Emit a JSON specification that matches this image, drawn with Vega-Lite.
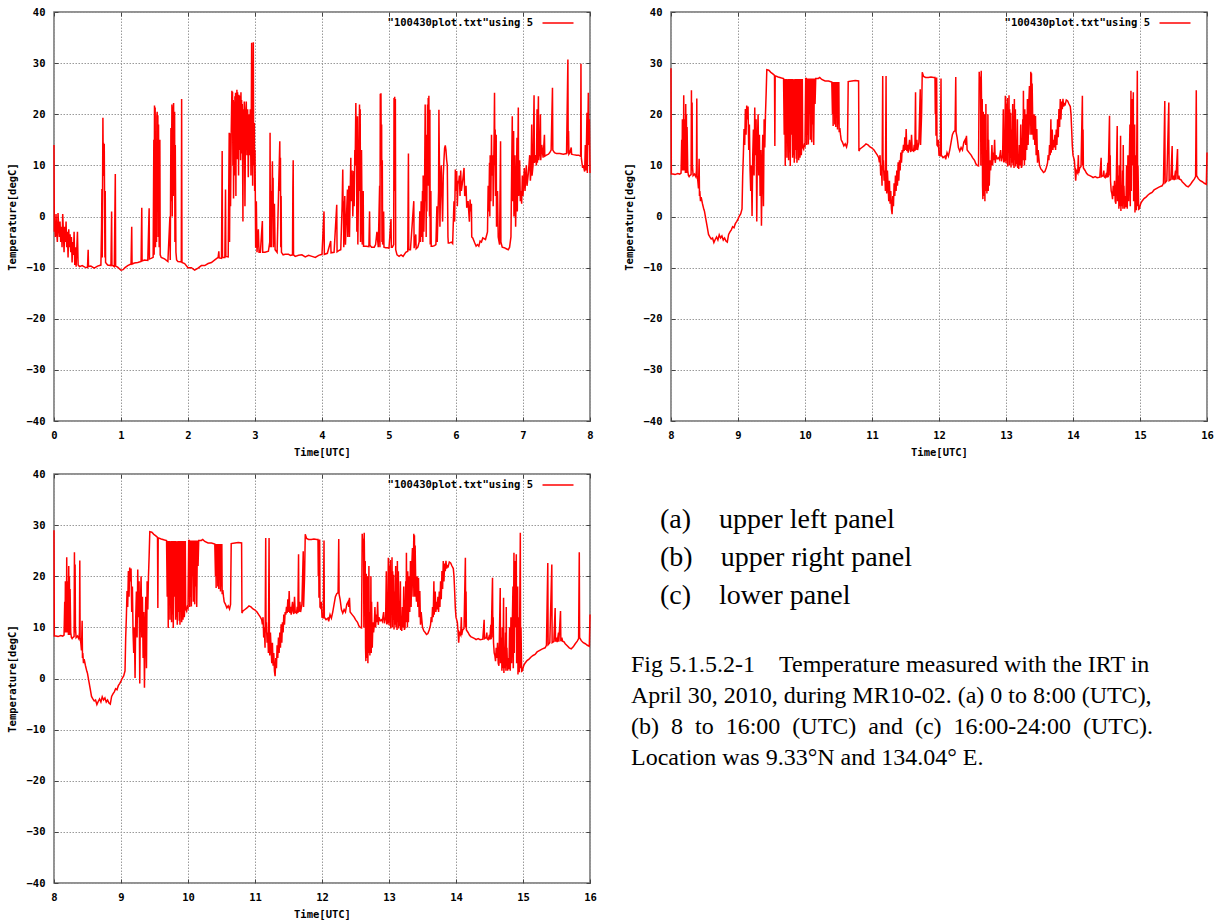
{
"$schema": "https://vega.github.io/schema/vega-lite/v6.json",
"background": "white",
"padding": {"left": 6, "top": 6, "right": 5, "bottom": 5},
"config": {
 "view": {"stroke": "#6f6f6f", "strokeWidth": 1.5},
 "axis": {"domain": false, "labelFont": "DejaVu Sans Mono", "labelFontWeight": "bold", "labelFontSize": 10.5, "labelColor": "#000",
  "titleFont": "DejaVu Sans Mono", "titleFontWeight": "bold", "titleFontSize": 10.5, "titleColor": "#000",
  "gridColor": "#9a9a9a", "gridDash": [1.5, 1.5], "gridWidth": 1, "gridOpacity": 1,
  "tickColor": "#444", "tickSize": -4, "tickWidth": 1, "labelPadding": 13, "labelOverlap": false, "labelFlush": false, "labelBound": false},
 "axisX": {"titlePadding": 7},
 "axisY": {"titlePadding": 9},
 "legend": {"orient": "top-right", "offset": 5, "padding": 0, "symbolType": "M-3.1,0H3.1M4.8,0", "symbolSize": 100, "symbolStrokeWidth": 1.5,
  "labelFont": "DejaVu Sans Mono", "labelFontWeight": "bold", "labelFontSize": 10.5, "labelColor": "#000",
  "labelAlign": "right", "labelOffset": -31, "symbolOffset": 0, "labelLimit": 400}
},
"datasets": {
"a": [
{"time":0,"temp":14},{"time":0.005,"temp":-3},{"time":0.012,"temp":-1.5},{"time":0.02,"temp":-4},{"time":0.03,"temp":0.5},{"time":0.04,"temp":-3},{"time":0.05,"temp":-5},{"time":0.06,"temp":0.7},{"time":0.07,"temp":-2},{"time":0.08,"temp":-4},{"time":0.09,"temp":-1},{"time":0.1,"temp":-5},{"time":0.11,"temp":-2},{"time":0.12,"temp":-6},{"time":0.13,"temp":0.5},{"time":0.14,"temp":-3},{"time":0.15,"temp":-7},{"time":0.16,"temp":-2},{"time":0.17,"temp":-5},{"time":0.18,"temp":-1},{"time":0.19,"temp":-6},{"time":0.2,"temp":-3},{"time":0.21,"temp":-8},{"time":0.22,"temp":-2.5},{"time":0.23,"temp":-6},{"time":0.24,"temp":-3.5},{"time":0.25,"temp":-7},{"time":0.26,"temp":-4},{"time":0.27,"temp":-9},{"time":0.28,"temp":-5},{"time":0.29,"temp":-7.5},{"time":0.3,"temp":-3},{"time":0.31,"temp":-9.5},{"time":0.32,"temp":-6},{"time":0.33,"temp":-9.8},{"time":0.34,"temp":-6.5},{"time":0.35,"temp":-3},{"time":0.36,"temp":-9.5},{"time":0.38,"temp":-9.8},{"time":0.42,"temp":-9.6},{"time":0.46,"temp":-9.9},{"time":0.5,"temp":-10},{"time":0.51,"temp":-6.5},{"time":0.515,"temp":-9.8},{"time":0.55,"temp":-9.7},{"time":0.6,"temp":-10.1},{"time":0.65,"temp":-9.7},{"time":0.7,"temp":-9.5},{"time":0.71,"temp":-2},{"time":0.715,"temp":5.4},{"time":0.72,"temp":-8},{"time":0.725,"temp":5.6},{"time":0.73,"temp":19.3},{"time":0.735,"temp":10},{"time":0.74,"temp":14.4},{"time":0.745,"temp":7.9},{"time":0.75,"temp":14.2},{"time":0.755,"temp":3},{"time":0.76,"temp":-8},{"time":0.765,"temp":5},{"time":0.77,"temp":-9},{"time":0.8,"temp":-9.5},{"time":0.85,"temp":-9.6},{"time":0.86,"temp":1},{"time":0.865,"temp":-9.5},{"time":0.9,"temp":-9.8},{"time":0.915,"temp":8.3},{"time":0.92,"temp":-9.7},{"time":0.95,"temp":-9.9},{"time":1,"temp":-10.5},{"time":1.03,"temp":-10.4},{"time":1.06,"temp":-10},{"time":1.1,"temp":-9.6},{"time":1.15,"temp":-9.3},{"time":1.16,"temp":-2},{"time":1.165,"temp":-9.3},{"time":1.2,"temp":-9.1},{"time":1.25,"temp":-9},{"time":1.3,"temp":-8.8},{"time":1.31,"temp":1.7},{"time":1.315,"temp":-8.7},{"time":1.35,"temp":-8.5},{"time":1.4,"temp":-8.6},{"time":1.42,"temp":1.6},{"time":1.425,"temp":-8.3},{"time":1.45,"temp":-8.2},{"time":1.48,"temp":-8},{"time":1.49,"temp":15},{"time":1.495,"temp":-7.5},{"time":1.5,"temp":21.7},{"time":1.505,"temp":5},{"time":1.51,"temp":21.3},{"time":1.515,"temp":-6},{"time":1.52,"temp":12},{"time":1.53,"temp":-5},{"time":1.535,"temp":19.6},{"time":1.54,"temp":20.5},{"time":1.545,"temp":3},{"time":1.55,"temp":19.8},{"time":1.555,"temp":-4},{"time":1.56,"temp":18},{"time":1.57,"temp":-6},{"time":1.58,"temp":15},{"time":1.585,"temp":-7.5},{"time":1.6,"temp":-8},{"time":1.65,"temp":-8.3},{"time":1.7,"temp":-8.8},{"time":1.73,"temp":0},{"time":1.735,"temp":-8.5},{"time":1.745,"temp":17.3},{"time":1.75,"temp":3},{"time":1.76,"temp":21.9},{"time":1.765,"temp":0},{"time":1.77,"temp":16},{"time":1.775,"temp":21.5},{"time":1.78,"temp":4},{"time":1.785,"temp":22.2},{"time":1.79,"temp":10},{"time":1.8,"temp":20.5},{"time":1.805,"temp":-5},{"time":1.81,"temp":14},{"time":1.82,"temp":-7},{"time":1.83,"temp":-8.5},{"time":1.85,"temp":-8.8},{"time":1.9,"temp":-8.9},{"time":1.905,"temp":23},{"time":1.91,"temp":-9},{"time":1.95,"temp":-9.2},{"time":2,"temp":-10},{"time":2.05,"temp":-10},{"time":2.1,"temp":-10.5},{"time":2.15,"temp":-10.1},{"time":2.2,"temp":-9.6},{"time":2.25,"temp":-9.6},{"time":2.3,"temp":-9.2},{"time":2.35,"temp":-9},{"time":2.4,"temp":-8.5},{"time":2.45,"temp":-8},{"time":2.46,"temp":-6.8},{"time":2.465,"temp":-8.1},{"time":2.5,"temp":-8.2},{"time":2.51,"temp":12.8},{"time":2.515,"temp":-8},{"time":2.55,"temp":-8},{"time":2.56,"temp":5.3},{"time":2.565,"temp":-7.8},{"time":2.6,"temp":-7.9},{"time":2.615,"temp":16.4},{"time":2.62,"temp":-5},{"time":2.63,"temp":16.3},{"time":2.635,"temp":2},{"time":2.645,"temp":16.5},{"time":2.655,"temp":24.6},{"time":2.66,"temp":18},{"time":2.665,"temp":24.4},{"time":2.67,"temp":10},{"time":2.675,"temp":22.8},{"time":2.68,"temp":3.5},{"time":2.69,"temp":22.5},{"time":2.695,"temp":8},{"time":2.7,"temp":23.5},{"time":2.705,"temp":17},{"time":2.71,"temp":24.2},{"time":2.715,"temp":4},{"time":2.72,"temp":23.8},{"time":2.725,"temp":15.4},{"time":2.73,"temp":24.8},{"time":2.735,"temp":11.2},{"time":2.74,"temp":24.3},{"time":2.745,"temp":19},{"time":2.75,"temp":23.5},{"time":2.755,"temp":8},{"time":2.76,"temp":23.8},{"time":2.765,"temp":13},{"time":2.77,"temp":23.2},{"time":2.775,"temp":16},{"time":2.78,"temp":23.6},{"time":2.785,"temp":11},{"time":2.79,"temp":24.3},{"time":2.795,"temp":20},{"time":2.8,"temp":22.8},{"time":2.805,"temp":12.3},{"time":2.81,"temp":22},{"time":2.82,"temp":-1},{"time":2.825,"temp":21},{"time":2.83,"temp":14},{"time":2.84,"temp":22.5},{"time":2.85,"temp":2},{"time":2.86,"temp":20},{"time":2.87,"temp":22.5},{"time":2.88,"temp":12},{"time":2.89,"temp":21},{"time":2.9,"temp":7.7},{"time":2.91,"temp":20},{"time":2.92,"temp":12},{"time":2.93,"temp":21},{"time":2.94,"temp":8},{"time":2.95,"temp":34},{"time":2.955,"temp":10},{"time":2.96,"temp":20},{"time":2.965,"temp":6},{"time":2.975,"temp":34.1},{"time":2.98,"temp":10},{"time":2.99,"temp":18.3},{"time":2.995,"temp":5},{"time":3,"temp":13},{"time":3.01,"temp":-6.1},{"time":3.02,"temp":3},{"time":3.03,"temp":-7},{"time":3.05,"temp":-2.5},{"time":3.06,"temp":-7},{"time":3.08,"temp":-7},{"time":3.11,"temp":-0.9},{"time":3.115,"temp":-7},{"time":3.15,"temp":-7},{"time":3.2,"temp":-6.8},{"time":3.22,"temp":-5},{"time":3.225,"temp":16.4},{"time":3.23,"temp":-6},{"time":3.24,"temp":5},{"time":3.245,"temp":-6},{"time":3.26,"temp":10.8},{"time":3.265,"temp":0},{"time":3.27,"temp":7.6},{"time":3.275,"temp":-6},{"time":3.29,"temp":2.5},{"time":3.3,"temp":-6.5},{"time":3.33,"temp":-7},{"time":3.37,"temp":14.7},{"time":3.375,"temp":5},{"time":3.38,"temp":11.5},{"time":3.385,"temp":-6},{"time":3.39,"temp":4},{"time":3.395,"temp":-7},{"time":3.42,"temp":-7.5},{"time":3.45,"temp":-7.4},{"time":3.5,"temp":-7.4},{"time":3.53,"temp":-7.6},{"time":3.56,"temp":-7.5},{"time":3.565,"temp":5.5},{"time":3.57,"temp":11},{"time":3.575,"temp":-7.5},{"time":3.6,"temp":-7.8},{"time":3.65,"temp":-7.6},{"time":3.7,"temp":-7.5},{"time":3.75,"temp":-7.9},{"time":3.8,"temp":-7.6},{"time":3.85,"temp":-7.8},{"time":3.9,"temp":-8},{"time":3.95,"temp":-7.6},{"time":4,"temp":-7.4},{"time":4.03,"temp":1},{"time":4.035,"temp":-7.4},{"time":4.08,"temp":-7.2},{"time":4.13,"temp":-4.8},{"time":4.135,"temp":-7.1},{"time":4.18,"temp":-7},{"time":4.22,"temp":2.3},{"time":4.225,"temp":-6.9},{"time":4.26,"temp":-6.6},{"time":4.28,"temp":-6.5},{"time":4.3,"temp":2},{"time":4.31,"temp":9.2},{"time":4.315,"temp":1},{"time":4.32,"temp":3},{"time":4.325,"temp":-6},{"time":4.34,"temp":4},{"time":4.35,"temp":-5.5},{"time":4.38,"temp":5.3},{"time":4.385,"temp":-4},{"time":4.4,"temp":6},{"time":4.41,"temp":-4},{"time":4.43,"temp":11.5},{"time":4.435,"temp":3},{"time":4.45,"temp":9},{"time":4.46,"temp":0},{"time":4.475,"temp":8.9},{"time":4.48,"temp":2},{"time":4.49,"temp":13},{"time":4.495,"temp":10},{"time":4.505,"temp":22.2},{"time":4.51,"temp":15},{"time":4.515,"temp":18.3},{"time":4.52,"temp":-3},{"time":4.53,"temp":19.6},{"time":4.535,"temp":-5.5},{"time":4.56,"temp":21.9},{"time":4.565,"temp":5},{"time":4.57,"temp":21},{"time":4.575,"temp":-5},{"time":4.59,"temp":13},{"time":4.6,"temp":-5.5},{"time":4.615,"temp":5},{"time":4.62,"temp":-5.8},{"time":4.66,"temp":-5.8},{"time":4.7,"temp":-5.9},{"time":4.71,"temp":1},{"time":4.715,"temp":-5.6},{"time":4.74,"temp":-6},{"time":4.78,"temp":-6},{"time":4.8,"temp":-5.5},{"time":4.82,"temp":-3},{"time":4.84,"temp":-6},{"time":4.86,"temp":6},{"time":4.865,"temp":-6},{"time":4.87,"temp":24},{"time":4.875,"temp":10},{"time":4.88,"temp":24.1},{"time":4.885,"temp":11.5},{"time":4.89,"temp":18},{"time":4.895,"temp":-5},{"time":4.9,"temp":11},{"time":4.905,"temp":-5.5},{"time":4.92,"temp":1},{"time":4.925,"temp":-6},{"time":4.95,"temp":-6.1},{"time":4.98,"temp":-6.1},{"time":5,"temp":-6.2},{"time":5.03,"temp":-0.5},{"time":5.035,"temp":-6},{"time":5.05,"temp":-6},{"time":5.07,"temp":-5.5},{"time":5.075,"temp":23.2},{"time":5.08,"temp":5},{"time":5.085,"temp":23.4},{"time":5.09,"temp":10},{"time":5.095,"temp":23},{"time":5.1,"temp":-6.5},{"time":5.12,"temp":-7.5},{"time":5.15,"temp":-7.8},{"time":5.18,"temp":-7.5},{"time":5.21,"temp":-7.8},{"time":5.25,"temp":-7},{"time":5.28,"temp":-6.8},{"time":5.29,"temp":12.3},{"time":5.295,"temp":-6.5},{"time":5.32,"temp":-6.5},{"time":5.37,"temp":3},{"time":5.375,"temp":-6.2},{"time":5.4,"temp":-3.5},{"time":5.405,"temp":-6.3},{"time":5.43,"temp":-6},{"time":5.45,"temp":-5},{"time":5.46,"temp":1},{"time":5.47,"temp":-5},{"time":5.48,"temp":3},{"time":5.49,"temp":-4},{"time":5.5,"temp":5},{"time":5.505,"temp":-5},{"time":5.51,"temp":8},{"time":5.52,"temp":-3},{"time":5.53,"temp":4},{"time":5.54,"temp":21.9},{"time":5.545,"temp":3},{"time":5.55,"temp":8.9},{"time":5.555,"temp":-4},{"time":5.56,"temp":16},{"time":5.565,"temp":1},{"time":5.575,"temp":21.9},{"time":5.58,"temp":10},{"time":5.585,"temp":23.2},{"time":5.59,"temp":6},{"time":5.595,"temp":23.6},{"time":5.6,"temp":12},{"time":5.605,"temp":0},{"time":5.61,"temp":20.9},{"time":5.615,"temp":-5.5},{"time":5.625,"temp":5},{"time":5.63,"temp":-5.8},{"time":5.65,"temp":-5.8},{"time":5.68,"temp":-5.7},{"time":5.7,"temp":-5.5},{"time":5.715,"temp":2},{"time":5.72,"temp":-5},{"time":5.74,"temp":5},{"time":5.745,"temp":20.9},{"time":5.75,"temp":13.4},{"time":5.755,"temp":8},{"time":5.76,"temp":-2},{"time":5.77,"temp":6},{"time":5.78,"temp":10},{"time":5.79,"temp":4},{"time":5.8,"temp":-1},{"time":5.81,"temp":8},{"time":5.82,"temp":11},{"time":5.83,"temp":13.4},{"time":5.84,"temp":13.9},{"time":5.85,"temp":13},{"time":5.86,"temp":11.1},{"time":5.87,"temp":10},{"time":5.88,"temp":-4},{"time":5.885,"temp":-5.2},{"time":5.9,"temp":-5.2},{"time":5.93,"temp":-5},{"time":5.95,"temp":-5.3},{"time":5.97,"temp":3},{"time":5.98,"temp":-1},{"time":5.99,"temp":9.2},{"time":6,"temp":5},{"time":6.01,"temp":8.9},{"time":6.02,"temp":2},{"time":6.03,"temp":7},{"time":6.04,"temp":6.5},{"time":6.05,"temp":8},{"time":6.06,"temp":4},{"time":6.07,"temp":9},{"time":6.08,"temp":5},{"time":6.1,"temp":7},{"time":6.12,"temp":9.5},{"time":6.13,"temp":4},{"time":6.15,"temp":6},{"time":6.16,"temp":1.7},{"time":6.18,"temp":3},{"time":6.2,"temp":-1},{"time":6.21,"temp":3.3},{"time":6.22,"temp":1},{"time":6.23,"temp":2.5},{"time":6.235,"temp":-4},{"time":6.25,"temp":-4.2},{"time":6.28,"temp":-5.2},{"time":6.3,"temp":-5.8},{"time":6.32,"temp":-5.5},{"time":6.34,"temp":-5.8},{"time":6.36,"temp":-4.8},{"time":6.38,"temp":-5},{"time":6.4,"temp":-4.2},{"time":6.44,"temp":-4.5},{"time":6.47,"temp":-3},{"time":6.48,"temp":6},{"time":6.49,"temp":1},{"time":6.5,"temp":10.5},{"time":6.505,"temp":0},{"time":6.51,"temp":12},{"time":6.52,"temp":3},{"time":6.53,"temp":16},{"time":6.535,"temp":8},{"time":6.55,"temp":12},{"time":6.555,"temp":2},{"time":6.57,"temp":17},{"time":6.575,"temp":24.2},{"time":6.58,"temp":10},{"time":6.585,"temp":17},{"time":6.59,"temp":4},{"time":6.6,"temp":16},{"time":6.605,"temp":-2},{"time":6.62,"temp":5},{"time":6.63,"temp":-4},{"time":6.65,"temp":-5.5},{"time":6.665,"temp":14.7},{"time":6.67,"temp":-5},{"time":6.69,"temp":-6},{"time":6.72,"temp":-6.1},{"time":6.75,"temp":-6.3},{"time":6.78,"temp":-6.5},{"time":6.8,"temp":-6},{"time":6.82,"temp":-4},{"time":6.83,"temp":8},{"time":6.84,"temp":19.6},{"time":6.845,"temp":3},{"time":6.86,"temp":16.7},{"time":6.865,"temp":0},{"time":6.88,"temp":12},{"time":6.89,"temp":-2},{"time":6.9,"temp":6},{"time":6.91,"temp":15.4},{"time":6.915,"temp":1},{"time":6.93,"temp":21.3},{"time":6.935,"temp":4},{"time":6.95,"temp":11},{"time":6.96,"temp":3},{"time":6.97,"temp":5},{"time":6.98,"temp":2.5},{"time":6.99,"temp":8},{"time":7,"temp":4},{"time":7.02,"temp":9.5},{"time":7.03,"temp":5},{"time":7.05,"temp":10},{"time":7.06,"temp":6},{"time":7.08,"temp":8.5},{"time":7.1,"temp":12},{"time":7.11,"temp":7},{"time":7.12,"temp":9},{"time":7.13,"temp":18},{"time":7.135,"temp":8},{"time":7.15,"temp":10},{"time":7.16,"temp":19},{"time":7.165,"temp":23.7},{"time":7.17,"temp":10.5},{"time":7.19,"temp":12},{"time":7.2,"temp":10},{"time":7.21,"temp":21},{"time":7.215,"temp":10.5},{"time":7.23,"temp":23.5},{"time":7.235,"temp":11},{"time":7.25,"temp":13},{"time":7.26,"temp":20},{"time":7.265,"temp":11},{"time":7.28,"temp":14},{"time":7.3,"temp":11.5},{"time":7.32,"temp":16},{"time":7.325,"temp":11.8},{"time":7.35,"temp":12},{"time":7.38,"temp":12.2},{"time":7.4,"temp":12.5},{"time":7.42,"temp":13},{"time":7.44,"temp":25.2},{"time":7.445,"temp":13},{"time":7.47,"temp":12.5},{"time":7.5,"temp":12.3},{"time":7.55,"temp":12.3},{"time":7.6,"temp":12.2},{"time":7.65,"temp":12.3},{"time":7.67,"temp":30.7},{"time":7.675,"temp":12.3},{"time":7.68,"temp":16.7},{"time":7.685,"temp":12.2},{"time":7.7,"temp":12.5},{"time":7.72,"temp":13.5},{"time":7.725,"temp":12.2},{"time":7.75,"temp":12.1},{"time":7.8,"temp":12},{"time":7.83,"temp":12},{"time":7.86,"temp":11.8},{"time":7.865,"temp":29.9},{"time":7.87,"temp":11.5},{"time":7.88,"temp":10.5},{"time":7.89,"temp":9.5},{"time":7.9,"temp":10},{"time":7.92,"temp":8.8},{"time":7.93,"temp":14},{"time":7.94,"temp":9},{"time":7.95,"temp":16.4},{"time":7.955,"temp":20.3},{"time":7.96,"temp":8.5},{"time":7.97,"temp":19},{"time":7.975,"temp":24.2},{"time":7.98,"temp":14},{"time":7.99,"temp":19},{"time":8,"temp":8.5}
],
"b": [
{"time":8,"temp":29},{"time":8.005,"temp":8.3},{"time":8.03,"temp":8.3},{"time":8.06,"temp":8.2},{"time":8.1,"temp":8.4},{"time":8.13,"temp":8.3},{"time":8.15,"temp":8.5},{"time":8.16,"temp":15},{"time":8.165,"temp":9},{"time":8.17,"temp":19},{"time":8.175,"temp":10},{"time":8.18,"temp":18.5},{"time":8.185,"temp":9},{"time":8.19,"temp":23.7},{"time":8.195,"temp":12},{"time":8.2,"temp":19},{"time":8.205,"temp":9},{"time":8.21,"temp":17.5},{"time":8.215,"temp":8.5},{"time":8.22,"temp":22},{"time":8.225,"temp":10},{"time":8.23,"temp":20},{"time":8.235,"temp":8.5},{"time":8.24,"temp":17.5},{"time":8.25,"temp":9},{"time":8.26,"temp":8},{"time":8.27,"temp":7.8},{"time":8.28,"temp":8},{"time":8.3,"temp":8.2},{"time":8.305,"temp":24.7},{"time":8.31,"temp":9},{"time":8.315,"temp":22.3},{"time":8.32,"temp":10},{"time":8.33,"temp":8},{"time":8.35,"temp":8.3},{"time":8.37,"temp":7.8},{"time":8.38,"temp":9},{"time":8.385,"temp":23.1},{"time":8.39,"temp":8},{"time":8.4,"temp":7},{"time":8.41,"temp":5.5},{"time":8.42,"temp":11.3},{"time":8.425,"temp":4},{"time":8.43,"temp":5},{"time":8.44,"temp":3},{"time":8.45,"temp":3.8},{"time":8.47,"temp":2.5},{"time":8.49,"temp":1.4},{"time":8.5,"temp":1},{"time":8.52,"temp":-0.5},{"time":8.54,"temp":-2},{"time":8.56,"temp":-3.5},{"time":8.58,"temp":-4},{"time":8.6,"temp":-4.4},{"time":8.62,"temp":-4.2},{"time":8.64,"temp":-5.1},{"time":8.66,"temp":-4.5},{"time":8.68,"temp":-4},{"time":8.7,"temp":-4.6},{"time":8.72,"temp":-3.6},{"time":8.74,"temp":-4.2},{"time":8.76,"temp":-3.8},{"time":8.78,"temp":-4.6},{"time":8.8,"temp":-4.2},{"time":8.82,"temp":-4.8},{"time":8.84,"temp":-5},{"time":8.86,"temp":-3.5},{"time":8.88,"temp":-3},{"time":8.9,"temp":-2.6},{"time":8.92,"temp":-2},{"time":8.94,"temp":-2.2},{"time":8.96,"temp":-1.4},{"time":8.98,"temp":-1},{"time":9,"temp":-0.5},{"time":9.02,"temp":0.1},{"time":9.04,"temp":0.5},{"time":9.06,"temp":1.5},{"time":9.07,"temp":8},{"time":9.08,"temp":12},{"time":9.09,"temp":17.1},{"time":9.1,"temp":14},{"time":9.11,"temp":21},{"time":9.12,"temp":16},{"time":9.13,"temp":21.7},{"time":9.14,"temp":19},{"time":9.15,"temp":21.5},{"time":9.16,"temp":13},{"time":9.17,"temp":18},{"time":9.18,"temp":9},{"time":9.19,"temp":5},{"time":9.2,"temp":10},{"time":9.21,"temp":0.1},{"time":9.22,"temp":12},{"time":9.23,"temp":17},{"time":9.24,"temp":8},{"time":9.25,"temp":21.3},{"time":9.26,"temp":12},{"time":9.27,"temp":19},{"time":9.28,"temp":-1},{"time":9.29,"temp":15},{"time":9.3,"temp":20},{"time":9.31,"temp":8},{"time":9.32,"temp":16},{"time":9.33,"temp":4},{"time":9.34,"temp":13},{"time":9.35,"temp":-1.8},{"time":9.36,"temp":10},{"time":9.37,"temp":16},{"time":9.38,"temp":2},{"time":9.39,"temp":19},{"time":9.4,"temp":13.5},{"time":9.41,"temp":20},{"time":9.42,"temp":24},{"time":9.43,"temp":28.7},{"time":9.46,"temp":28.6},{"time":9.49,"temp":28.2},{"time":9.52,"temp":27.9},{"time":9.545,"temp":27.6},{"time":9.55,"temp":13.8},{"time":9.555,"temp":27.5},{"time":9.6,"temp":27.3},{"time":9.65,"temp":27.1},{"time":9.68,"temp":27},{"time":9.69,"temp":16},{"time":9.7,"temp":26.9},{"time":9.705,"temp":9.9},{"time":9.71,"temp":26.9},{"time":9.72,"temp":15},{"time":9.725,"temp":26.9},{"time":9.73,"temp":11.5},{"time":9.74,"temp":26.8},{"time":9.745,"temp":20},{"time":9.75,"temp":26.9},{"time":9.755,"temp":11},{"time":9.76,"temp":26.9},{"time":9.77,"temp":12.5},{"time":9.775,"temp":26.9},{"time":9.78,"temp":9.9},{"time":9.79,"temp":26.9},{"time":9.8,"temp":16},{"time":9.81,"temp":26.9},{"time":9.815,"temp":11.5},{"time":9.82,"temp":26.9},{"time":9.83,"temp":12},{"time":9.835,"temp":26.8},{"time":9.84,"temp":10.5},{"time":9.85,"temp":26.9},{"time":9.855,"temp":13},{"time":9.86,"temp":26.9},{"time":9.87,"temp":11.3},{"time":9.875,"temp":26.9},{"time":9.88,"temp":10.5},{"time":9.89,"temp":26.9},{"time":9.895,"temp":13},{"time":9.9,"temp":26.9},{"time":9.905,"temp":11},{"time":9.91,"temp":12},{"time":9.92,"temp":26.9},{"time":9.925,"temp":11.5},{"time":9.93,"temp":13},{"time":9.94,"temp":26.9},{"time":9.945,"temp":12},{"time":9.95,"temp":13.5},{"time":9.96,"temp":26.9},{"time":9.965,"temp":14},{"time":9.97,"temp":13.5},{"time":9.98,"temp":13.2},{"time":9.99,"temp":14},{"time":10,"temp":13.8},{"time":10.01,"temp":27},{"time":10.02,"temp":27},{"time":10.025,"temp":14},{"time":10.03,"temp":27},{"time":10.04,"temp":16},{"time":10.045,"temp":27},{"time":10.05,"temp":14.1},{"time":10.06,"temp":27},{"time":10.07,"temp":20},{"time":10.075,"temp":27},{"time":10.08,"temp":15},{"time":10.09,"temp":27},{"time":10.1,"temp":14.5},{"time":10.105,"temp":27},{"time":10.11,"temp":18},{"time":10.12,"temp":27},{"time":10.13,"temp":14},{"time":10.14,"temp":27},{"time":10.15,"temp":22},{"time":10.16,"temp":27},{"time":10.2,"temp":27},{"time":10.22,"temp":27.2},{"time":10.25,"temp":26.8},{"time":10.3,"temp":26.5},{"time":10.35,"temp":26.5},{"time":10.4,"temp":26.3},{"time":10.41,"temp":20},{"time":10.415,"temp":26.3},{"time":10.42,"temp":17.7},{"time":10.425,"temp":26.3},{"time":10.43,"temp":22},{"time":10.44,"temp":26.3},{"time":10.445,"temp":18},{"time":10.45,"temp":26.3},{"time":10.46,"temp":17.5},{"time":10.465,"temp":26.3},{"time":10.47,"temp":20},{"time":10.48,"temp":26.3},{"time":10.485,"temp":17},{"time":10.49,"temp":26.3},{"time":10.5,"temp":18},{"time":10.505,"temp":26.3},{"time":10.51,"temp":16.5},{"time":10.52,"temp":17.3},{"time":10.53,"temp":16},{"time":10.54,"temp":15},{"time":10.56,"temp":14.5},{"time":10.58,"temp":13.8},{"time":10.6,"temp":14.2},{"time":10.62,"temp":13.6},{"time":10.635,"temp":14.5},{"time":10.645,"temp":26.4},{"time":10.7,"temp":26.5},{"time":10.75,"temp":26.6},{"time":10.8,"temp":26.5},{"time":10.805,"temp":12.8},{"time":10.82,"temp":13.2},{"time":10.85,"temp":13.5},{"time":10.88,"temp":13.8},{"time":10.91,"temp":14.2},{"time":10.94,"temp":14},{"time":10.97,"temp":13.6},{"time":11,"temp":13.4},{"time":11.03,"temp":13},{"time":11.06,"temp":12.4},{"time":11.08,"temp":12},{"time":11.1,"temp":11.5},{"time":11.11,"temp":10.6},{"time":11.12,"temp":12},{"time":11.13,"temp":8},{"time":11.14,"temp":10},{"time":11.15,"temp":6},{"time":11.16,"temp":27.5},{"time":11.165,"temp":9},{"time":11.17,"temp":11},{"time":11.18,"temp":7},{"time":11.19,"temp":9},{"time":11.2,"temp":5},{"time":11.21,"temp":27.5},{"time":11.215,"temp":8},{"time":11.22,"temp":4.5},{"time":11.23,"temp":9},{"time":11.24,"temp":6},{"time":11.25,"temp":3},{"time":11.26,"temp":7},{"time":11.27,"temp":2.5},{"time":11.28,"temp":5},{"time":11.29,"temp":1.5},{"time":11.3,"temp":0.45},{"time":11.31,"temp":4},{"time":11.32,"temp":2},{"time":11.33,"temp":6.5},{"time":11.34,"temp":4},{"time":11.35,"temp":8},{"time":11.36,"temp":5},{"time":11.37,"temp":9},{"time":11.38,"temp":6},{"time":11.39,"temp":10.6},{"time":11.4,"temp":7},{"time":11.41,"temp":11},{"time":11.42,"temp":9},{"time":11.43,"temp":12.5},{"time":11.44,"temp":10.5},{"time":11.45,"temp":13},{"time":11.46,"temp":12.5},{"time":11.47,"temp":14},{"time":11.48,"temp":12.8},{"time":11.49,"temp":15.5},{"time":11.5,"temp":13},{"time":11.51,"temp":17.1},{"time":11.52,"temp":12.8},{"time":11.53,"temp":14},{"time":11.54,"temp":12.5},{"time":11.56,"temp":15},{"time":11.57,"temp":13},{"time":11.58,"temp":12.6},{"time":11.59,"temp":16},{"time":11.6,"temp":13},{"time":11.62,"temp":12.8},{"time":11.63,"temp":14},{"time":11.64,"temp":12.8},{"time":11.65,"temp":24.3},{"time":11.655,"temp":13},{"time":11.67,"temp":15},{"time":11.68,"temp":13},{"time":11.7,"temp":14.5},{"time":11.72,"temp":24.9},{"time":11.725,"temp":14},{"time":11.73,"temp":16},{"time":11.74,"temp":20},{"time":11.75,"temp":28.2},{"time":11.77,"temp":27.4},{"time":11.8,"temp":27.2},{"time":11.84,"temp":27.2},{"time":11.88,"temp":27.3},{"time":11.92,"temp":27.2},{"time":11.94,"temp":27.2},{"time":11.945,"temp":20},{"time":11.95,"temp":27.1},{"time":11.955,"temp":15.8},{"time":11.96,"temp":18.4},{"time":11.965,"temp":27.2},{"time":11.97,"temp":14},{"time":11.98,"temp":13.8},{"time":11.99,"temp":15},{"time":12,"temp":12},{"time":12.02,"temp":11.9},{"time":12.03,"temp":27},{"time":12.035,"temp":12},{"time":12.06,"temp":11.5},{"time":12.09,"temp":11.8},{"time":12.1,"temp":11.2},{"time":12.12,"temp":12.5},{"time":12.14,"temp":11.8},{"time":12.16,"temp":13},{"time":12.18,"temp":14.5},{"time":12.2,"temp":16},{"time":12.22,"temp":16.6},{"time":12.24,"temp":16.8},{"time":12.25,"temp":27.3},{"time":12.255,"temp":16.5},{"time":12.27,"temp":15.5},{"time":12.29,"temp":13.5},{"time":12.31,"temp":12.8},{"time":12.33,"temp":13.5},{"time":12.35,"temp":13},{"time":12.37,"temp":14.5},{"time":12.39,"temp":15},{"time":12.4,"temp":14},{"time":12.41,"temp":15.8},{"time":12.42,"temp":13},{"time":12.45,"temp":12.5},{"time":12.48,"temp":12},{"time":12.5,"temp":11.5},{"time":12.53,"temp":11},{"time":12.55,"temp":10.3},{"time":12.57,"temp":10},{"time":12.59,"temp":9.9},{"time":12.6,"temp":28.3},{"time":12.605,"temp":27.2},{"time":12.62,"temp":27.2},{"time":12.625,"temp":10},{"time":12.63,"temp":28.5},{"time":12.635,"temp":22},{"time":12.64,"temp":13},{"time":12.645,"temp":23},{"time":12.65,"temp":6},{"time":12.655,"temp":3.4},{"time":12.66,"temp":20.5},{"time":12.665,"temp":7},{"time":12.67,"temp":14},{"time":12.675,"temp":4},{"time":12.68,"temp":20},{"time":12.685,"temp":3},{"time":12.69,"temp":16},{"time":12.695,"temp":5},{"time":12.7,"temp":22},{"time":12.705,"temp":8},{"time":12.71,"temp":12},{"time":12.715,"temp":4.5},{"time":12.72,"temp":13},{"time":12.725,"temp":7},{"time":12.73,"temp":20},{"time":12.735,"temp":5},{"time":12.74,"temp":15},{"time":12.75,"temp":6},{"time":12.76,"temp":11},{"time":12.77,"temp":9},{"time":12.78,"temp":10.5},{"time":12.79,"temp":14},{"time":12.8,"temp":10},{"time":12.81,"temp":12.5},{"time":12.82,"temp":11},{"time":12.83,"temp":15},{"time":12.84,"temp":10.5},{"time":12.85,"temp":12},{"time":12.87,"temp":11.3},{"time":12.89,"temp":11.5},{"time":12.9,"temp":11.2},{"time":12.92,"temp":13},{"time":12.93,"temp":10.8},{"time":12.95,"temp":12},{"time":12.96,"temp":21},{"time":12.965,"temp":10.6},{"time":12.98,"temp":11},{"time":12.99,"temp":23.6},{"time":13,"temp":10.4},{"time":13.005,"temp":22},{"time":13.01,"temp":11},{"time":13.02,"temp":23.2},{"time":13.025,"temp":9.8},{"time":13.03,"temp":20},{"time":13.04,"temp":13},{"time":13.045,"temp":23.7},{"time":13.05,"temp":10},{"time":13.055,"temp":21},{"time":13.06,"temp":11.5},{"time":13.07,"temp":20.3},{"time":13.075,"temp":9.6},{"time":13.08,"temp":17},{"time":13.09,"temp":10.5},{"time":13.1,"temp":22},{"time":13.105,"temp":10},{"time":13.11,"temp":16},{"time":13.12,"temp":9.5},{"time":13.125,"temp":23},{"time":13.13,"temp":11},{"time":13.14,"temp":21},{"time":13.145,"temp":9.8},{"time":13.15,"temp":15},{"time":13.16,"temp":10.2},{"time":13.17,"temp":19},{"time":13.175,"temp":9.5},{"time":13.18,"temp":12},{"time":13.19,"temp":9.3},{"time":13.2,"temp":14},{"time":13.21,"temp":10},{"time":13.22,"temp":18},{"time":13.23,"temp":9.5},{"time":13.24,"temp":10},{"time":13.25,"temp":19},{"time":13.255,"temp":11},{"time":13.26,"temp":24.6},{"time":13.265,"temp":14},{"time":13.27,"temp":19.5},{"time":13.275,"temp":10},{"time":13.28,"temp":21},{"time":13.29,"temp":11},{"time":13.3,"temp":20},{"time":13.31,"temp":13},{"time":13.32,"temp":23},{"time":13.33,"temp":14},{"time":13.34,"temp":22},{"time":13.35,"temp":25.5},{"time":13.36,"temp":16},{"time":13.37,"temp":28.3},{"time":13.375,"temp":20},{"time":13.38,"temp":28},{"time":13.385,"temp":16},{"time":13.39,"temp":26},{"time":13.4,"temp":18},{"time":13.41,"temp":15},{"time":13.42,"temp":20},{"time":13.43,"temp":14},{"time":13.44,"temp":19.7},{"time":13.45,"temp":12},{"time":13.46,"temp":17.1},{"time":13.47,"temp":10.5},{"time":13.48,"temp":13},{"time":13.5,"temp":10},{"time":13.52,"temp":9.3},{"time":13.54,"temp":9},{"time":13.56,"temp":8.6},{"time":13.58,"temp":8.8},{"time":13.6,"temp":9.5},{"time":13.62,"temp":10.5},{"time":13.63,"temp":12},{"time":13.64,"temp":11},{"time":13.65,"temp":14},{"time":13.66,"temp":12},{"time":13.67,"temp":19},{"time":13.675,"temp":12.5},{"time":13.69,"temp":17},{"time":13.7,"temp":13},{"time":13.71,"temp":15},{"time":13.72,"temp":13.5},{"time":13.73,"temp":16},{"time":13.74,"temp":13},{"time":13.75,"temp":17},{"time":13.76,"temp":14},{"time":13.77,"temp":19},{"time":13.78,"temp":15.5},{"time":13.79,"temp":21},{"time":13.8,"temp":17.5},{"time":13.81,"temp":23},{"time":13.82,"temp":19},{"time":13.83,"temp":22.5},{"time":13.84,"temp":21},{"time":13.85,"temp":23},{"time":13.86,"temp":21.5},{"time":13.87,"temp":22.2},{"time":13.88,"temp":21.7},{"time":13.9,"temp":22.8},{"time":13.92,"temp":22.6},{"time":13.94,"temp":22},{"time":13.96,"temp":21.5},{"time":13.97,"temp":20},{"time":13.98,"temp":17},{"time":13.99,"temp":13.8},{"time":14,"temp":12},{"time":14.02,"temp":11},{"time":14.03,"temp":9.3},{"time":14.04,"temp":7},{"time":14.05,"temp":9},{"time":14.07,"temp":8.5},{"time":14.08,"temp":12},{"time":14.085,"temp":8.5},{"time":14.1,"temp":9.5},{"time":14.12,"temp":9.8},{"time":14.14,"temp":23.6},{"time":14.145,"temp":10},{"time":14.15,"temp":17},{"time":14.155,"temp":9.5},{"time":14.18,"temp":9},{"time":14.2,"temp":8.5},{"time":14.22,"temp":8.2},{"time":14.25,"temp":8},{"time":14.28,"temp":7.8},{"time":14.3,"temp":7.6},{"time":14.33,"temp":7.8},{"time":14.36,"temp":7.6},{"time":14.4,"temp":7.7},{"time":14.42,"temp":11.5},{"time":14.425,"temp":7.8},{"time":14.45,"temp":8},{"time":14.46,"temp":9},{"time":14.465,"temp":7.8},{"time":14.48,"temp":7.6},{"time":14.5,"temp":8.5},{"time":14.505,"temp":7.6},{"time":14.52,"temp":10.5},{"time":14.525,"temp":7.7},{"time":14.545,"temp":19.7},{"time":14.55,"temp":8},{"time":14.555,"temp":12},{"time":14.56,"temp":7},{"time":14.57,"temp":5},{"time":14.58,"temp":4.5},{"time":14.59,"temp":3.4},{"time":14.6,"temp":6},{"time":14.61,"temp":4},{"time":14.62,"temp":7},{"time":14.63,"temp":3},{"time":14.64,"temp":2.5},{"time":14.66,"temp":17.7},{"time":14.665,"temp":3},{"time":14.68,"temp":8},{"time":14.685,"temp":1.5},{"time":14.69,"temp":10},{"time":14.7,"temp":2},{"time":14.71,"temp":15.8},{"time":14.715,"temp":1.1},{"time":14.72,"temp":5},{"time":14.73,"temp":2},{"time":14.74,"temp":9},{"time":14.745,"temp":1.5},{"time":14.75,"temp":14},{"time":14.755,"temp":2.5},{"time":14.76,"temp":6},{"time":14.77,"temp":1.5},{"time":14.78,"temp":4},{"time":14.79,"temp":1.8},{"time":14.8,"temp":10},{"time":14.81,"temp":1.5},{"time":14.82,"temp":12},{"time":14.83,"temp":3},{"time":14.85,"temp":18},{"time":14.855,"temp":2},{"time":14.865,"temp":24.6},{"time":14.87,"temp":5},{"time":14.88,"temp":23},{"time":14.885,"temp":10},{"time":14.9,"temp":24.3},{"time":14.905,"temp":3},{"time":14.92,"temp":18},{"time":14.925,"temp":0.8},{"time":14.94,"temp":12},{"time":14.945,"temp":1.2},{"time":14.96,"temp":28.5},{"time":14.965,"temp":2},{"time":14.97,"temp":10},{"time":14.98,"temp":1.4},{"time":14.99,"temp":1.5},{"time":15.01,"temp":2.5},{"time":15.03,"temp":3},{"time":15.06,"temp":3.5},{"time":15.09,"temp":3.8},{"time":15.12,"temp":4.2},{"time":15.15,"temp":4.5},{"time":15.18,"temp":4.7},{"time":15.21,"temp":5.2},{"time":15.25,"temp":5.5},{"time":15.29,"temp":5.8},{"time":15.33,"temp":6},{"time":15.35,"temp":6.5},{"time":15.37,"temp":22.6},{"time":15.375,"temp":6.6},{"time":15.4,"temp":7},{"time":15.43,"temp":22.3},{"time":15.435,"temp":7},{"time":15.46,"temp":7.2},{"time":15.48,"temp":13.8},{"time":15.485,"temp":7.2},{"time":15.5,"temp":8},{"time":15.51,"temp":7.1},{"time":15.53,"temp":9},{"time":15.535,"temp":7.2},{"time":15.56,"temp":13.2},{"time":15.565,"temp":7.3},{"time":15.58,"temp":8},{"time":15.59,"temp":7.3},{"time":15.61,"temp":7.2},{"time":15.63,"temp":6.8},{"time":15.66,"temp":6.4},{"time":15.69,"temp":6},{"time":15.72,"temp":5.8},{"time":15.75,"temp":6.2},{"time":15.78,"temp":6.8},{"time":15.81,"temp":7.3},{"time":15.83,"temp":7.8},{"time":15.84,"temp":24.7},{"time":15.845,"temp":8},{"time":15.87,"temp":7.4},{"time":15.9,"temp":7},{"time":15.93,"temp":6.8},{"time":15.96,"temp":6.5},{"time":15.99,"temp":6.3},{"time":16,"temp":12.5}
]
},
"resolve": {"scale": {"color": "independent"}, "legend": {"color": "independent"}},
"spacing": 9,
"vconcat": [
 {
  "hconcat": [
   {
    "width": 536, "height": 409,
    "data": {"name": "a"},
    "resolve": {"axis": {"x": "independent", "y": "independent"}},
    "layer": [
     {"mark": {"type": "line", "strokeWidth": 1.5},
      "encoding": {
       "x": {"field": "time", "type": "quantitative", "scale": {"domain": [0, 8], "nice": false, "zero": false},
             "axis": {"orient": "bottom", "values": [0,1,2,3,4,5,6,7,8], "format": "d", "title": "Time[UTC]", "grid": true}},
       "y": {"field": "temp", "type": "quantitative", "scale": {"domain": [-40, 40], "nice": false},
             "axis": {"orient": "left", "values": [-40,-30,-20,-10,0,10,20,30,40], "format": "d", "title": "Temperature[degC]", "grid": true}},
       "color": {"datum": "\"100430plot.txt\"using 5", "type": "nominal", "scale": {"range": ["#ff0000"]}, "legend": {"title": null}}
      }},
     {"mark": {"type": "line", "opacity": 0},
      "encoding": {
       "x": {"field": "time", "type": "quantitative", "axis": {"orient": "top", "values": [0,1,2,3,4,5,6,7,8], "labels": false, "grid": false, "title": null}},
       "y": {"field": "temp", "type": "quantitative", "axis": {"orient": "right", "values": [-40,-30,-20,-10,0,10,20,30,40], "labels": false, "grid": false, "title": null}}
      }}
    ]
   },
   {
    "width": 536, "height": 409,
    "data": {"name": "b"},
    "resolve": {"axis": {"x": "independent", "y": "independent"}},
    "layer": [
     {"mark": {"type": "line", "strokeWidth": 1.5},
      "encoding": {
       "x": {"field": "time", "type": "quantitative", "scale": {"domain": [8, 16], "nice": false, "zero": false},
             "axis": {"orient": "bottom", "values": [8,9,10,11,12,13,14,15,16], "format": "d", "title": "Time[UTC]", "grid": true}},
       "y": {"field": "temp", "type": "quantitative", "scale": {"domain": [-40, 40], "nice": false},
             "axis": {"orient": "left", "values": [-40,-30,-20,-10,0,10,20,30,40], "format": "d", "title": "Temperature[degC]", "grid": true}},
       "color": {"datum": "\"100430plot.txt\"using 5", "type": "nominal", "scale": {"range": ["#ff0000"]}, "legend": {"title": null}}
      }},
     {"mark": {"type": "line", "opacity": 0},
      "encoding": {
       "x": {"field": "time", "type": "quantitative", "axis": {"orient": "top", "values": [8,9,10,11,12,13,14,15,16], "labels": false, "grid": false, "title": null}},
       "y": {"field": "temp", "type": "quantitative", "axis": {"orient": "right", "values": [-40,-30,-20,-10,0,10,20,30,40], "labels": false, "grid": false, "title": null}}
      }}
    ]
   }
  ],
  "spacing": 29,
  "resolve": {"scale": {"color": "independent"}, "legend": {"color": "independent"}}
 },
 {
  "hconcat": [
   {
    "width": 536, "height": 409,
    "data": {"name": "b"},
    "resolve": {"axis": {"x": "independent", "y": "independent"}},
    "layer": [
     {"mark": {"type": "line", "strokeWidth": 1.5},
      "encoding": {
       "x": {"field": "time", "type": "quantitative", "scale": {"domain": [8, 16], "nice": false, "zero": false},
             "axis": {"orient": "bottom", "values": [8,9,10,11,12,13,14,15,16], "format": "d", "title": "Time[UTC]", "grid": true}},
       "y": {"field": "temp", "type": "quantitative", "scale": {"domain": [-40, 40], "nice": false},
             "axis": {"orient": "left", "values": [-40,-30,-20,-10,0,10,20,30,40], "format": "d", "title": "Temperature[degC]", "grid": true}},
       "color": {"datum": "\"100430plot.txt\"using 5", "type": "nominal", "scale": {"range": ["#ff0000"]}, "legend": {"title": null}}
      }},
     {"mark": {"type": "line", "opacity": 0},
      "encoding": {
       "x": {"field": "time", "type": "quantitative", "axis": {"orient": "top", "values": [8,9,10,11,12,13,14,15,16], "labels": false, "grid": false, "title": null}},
       "y": {"field": "temp", "type": "quantitative", "axis": {"orient": "right", "values": [-40,-30,-20,-10,0,10,20,30,40], "labels": false, "grid": false, "title": null}}
      }}
    ]
   },
   {
    "spacing": 21,
    "vconcat": [
     {
      "width": 2, "height": 152,
      "view": {"stroke": null},
      "data": {"values": [
       {"i": 0, "s": "(a)\u00a0\u00a0\u00a0\u00a0upper left panel"},
       {"i": 1, "s": "(b)\u00a0\u00a0\u00a0\u00a0upper right panel"},
       {"i": 2, "s": "(c)\u00a0\u00a0\u00a0\u00a0lower panel"}
      ]},
      "mark": {"type": "text", "align": "left", "baseline": "middle", "font": "Liberation Serif", "fontSize": 28, "dx": 29, "dy": 8, "color": "#000"},
      "encoding": {
       "y": {"field": "i", "type": "ordinal", "axis": null, "scale": {"type": "point", "padding": 1}},
       "text": {"field": "s"}
      }
     },
     {
      "width": 2, "height": 129,
      "view": {"stroke": null},
      "data": {"values": [
       {"i": 0, "s": "Fig 5.1.5.2-1\u00a0\u00a0\u00a0\u00a0Temperature measured with the IRT in"},
       {"i": 1, "s": "April 30, 2010, during MR10-02. (a) 0 to 8:00 (UTC),"},
       {"i": 2, "s": "(b)\u00a0\u00a08\u00a0\u00a0to\u00a0\u00a016:00\u00a0\u00a0(UTC)\u00a0\u00a0and\u00a0\u00a0(c)\u00a0\u00a016:00-24:00\u00a0\u00a0(UTC)."},
       {"i": 3, "s": "Location was 9.33°N and 134.04° E."}
      ]},
      "mark": {"type": "text", "align": "left", "baseline": "middle", "font": "Liberation Serif", "fontSize": 24, "color": "#000"},
      "encoding": {
       "y": {"field": "i", "type": "ordinal", "axis": null, "scale": {"type": "point", "padding": 0.58}},
       "text": {"field": "s"}
      }
     }
    ]
   }
  ],
  "spacing": 32,
  "resolve": {"scale": {"color": "independent"}, "legend": {"color": "independent"}}
 }
]
}
